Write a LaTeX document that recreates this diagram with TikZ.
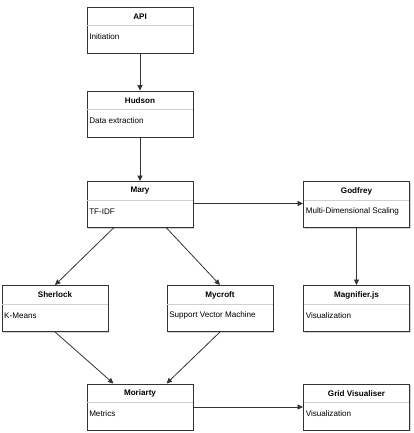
\documentclass[tikz,border=0pt]{standalone}
\usepackage{fontspec}
\setmainfont{Liberation Sans}
\usetikzlibrary{arrows.meta,shadows}
\definecolor{edgegray}{HTML}{333333}
\definecolor{divgray}{HTML}{D0D0D0}
\tikzset{
  box/.style={draw=edgegray,line width=0.9pt,fill=white,rectangle,minimum width=106pt,minimum height=46pt,inner sep=0pt,
    drop shadow={shadow xshift=1pt,shadow yshift=-1.2pt,opacity=0.35,fill=gray}},
  hdr/.style={font=\fontsize{8.1}{9}\selectfont\bfseries,inner sep=0pt,anchor=center},
  bodytext/.style={font=\fontsize{8.1}{9}\selectfont,inner sep=0pt,anchor=west},
  divline/.style={draw=divgray,line width=0.6pt},
  conn/.style={draw=edgegray,line width=0.8pt,-{Triangle[length=5.5pt,width=5pt]}}
}
\newcommand{\umlbox}[5]{%
  \node[box] (#1) at (#2,#3) {};
  \node[hdr] (#1h) at ([yshift=-10pt]#1.north) {#4};
  \draw[divline] ([yshift=-19pt,xshift=0.5pt]#1.north west) -- ([yshift=-19pt,xshift=-0.5pt]#1.north east);
  \node[bodytext] (#1b) at ([yshift=-30.5pt,xshift=2.5pt]#1.north west) {#5};
}
\begin{document}
\begin{tikzpicture}[x=1pt,y=-1pt]
\useasboundingbox (0,0) rectangle (413,433);
\umlbox{api}{140}{30}{API}{Initiation}
\umlbox{hudson}{140}{114}{Hudson}{Data extraction}
\umlbox{mary}{140}{204.5}{Mary}{TF-IDF}
\umlbox{godfrey}{356.5}{204.5}{Godfrey}{Multi-Dimensional Scaling}
\umlbox{sherlock}{55}{308.5}{Sherlock}{K-Means}
\umlbox{mycroft}{220}{308.5}{Mycroft}{Support Vector Machine}
\umlbox{magnifier}{356.5}{308.5}{Magnifier.js}{Visualization}
\umlbox{moriarty}{140}{407}{Moriarty}{Metrics}
\umlbox{grid}{356.5}{407}{Grid Visualiser}{Visualization}

\draw[conn] (api.south) -- (hudson.north);
\draw[conn] (hudson.south) -- (mary.north);
\draw[conn] (mary.east |- mary.center) ++(0,-1) coordinate (m1) (m1) -- (m1 -| godfrey.west);
\draw[conn] ([xshift=-26.5pt]mary.south) -- (sherlock.north);
\draw[conn] ([xshift=26.5pt]mary.south) -- (mycroft.north);
\draw[conn] (godfrey.south) -- (magnifier.north);
\draw[conn] (sherlock.south) -- ([xshift=-26.5pt]moriarty.north);
\draw[conn] (mycroft.south) -- ([xshift=26.5pt]moriarty.north);
\draw[conn] (moriarty.east) -- (grid.west);
\end{tikzpicture}
\end{document}
